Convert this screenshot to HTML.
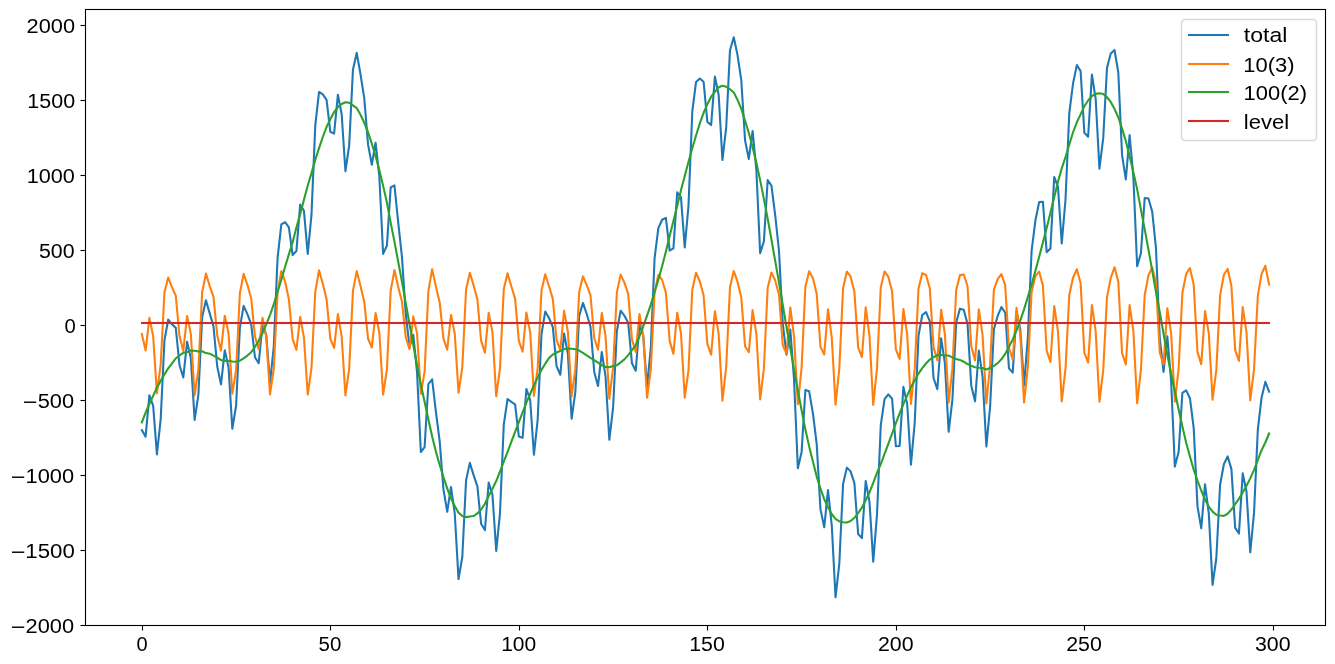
<!DOCTYPE html>
<html><head><meta charset="utf-8"><title>Seasonal components: total, 10(3), 100(2), level</title>
<style>html,body{margin:0;padding:0;background:#fff;overflow:hidden}svg{display:block;will-change:transform}text{font-family:"Liberation Sans",sans-serif;fill:#000}.c{shape-rendering:crispEdges}</style></head><body>
<svg width="1335" height="664" viewBox="0 0 1335 664">
<rect x="0" y="0" width="1335" height="664" fill="#ffffff"/>
<defs><clipPath id="ax"><rect x="85" y="9" width="1241" height="617"/></clipPath></defs>
<g clip-path="url(#ax)" fill="none" stroke-width="2.083" stroke-linejoin="round" stroke-linecap="square">
<polyline stroke="#1f77b4" points="141.84,430.07 145.61,436.71 149.38,395.29 153.15,405.56 156.92,454.40 160.69,419.20 164.46,340.29 168.23,319.56 172.00,324.36 175.77,327.87 179.54,365.31 183.31,377.44 187.08,341.77 190.85,358.36 194.62,419.84 198.39,394.72 202.16,317.11 205.93,300.34 209.70,313.38 213.47,326.19 217.24,366.50 221.01,384.40 224.78,350.23 228.55,367.56 232.32,428.77 236.09,405.76 239.86,327.90 243.63,305.85 247.40,314.19 251.17,324.02 254.94,357.18 258.71,363.24 262.48,324.52 266.25,334.88 270.02,383.08 273.79,346.35 277.56,258.18 281.33,224.35 285.10,222.03 288.87,227.38 292.64,255.07 296.41,251.06 300.18,204.65 303.95,210.80 307.72,253.88 311.49,214.81 315.26,125.62 319.03,91.96 322.80,94.46 326.57,99.78 330.34,131.78 334.11,133.64 337.88,94.76 341.65,113.99 345.42,171.28 349.19,145.26 352.96,69.81 356.73,52.85 360.50,74.26 364.27,98.33 368.04,144.40 371.81,164.77 375.58,142.72 379.35,176.66 383.12,253.92 386.89,245.81 390.67,187.32 394.44,185.36 398.21,222.36 401.98,257.17 405.75,313.99 409.52,346.94 413.29,334.82 417.06,372.33 420.83,452.01 424.60,447.10 428.37,384.04 432.14,379.43 435.91,411.87 439.68,441.05 443.45,489.38 447.22,511.74 450.99,486.93 454.76,513.53 458.53,579.07 462.30,556.97 466.07,480.36 469.84,462.86 473.61,475.14 477.38,486.45 481.15,524.00 484.92,530.06 488.69,482.63 492.46,494.81 496.23,550.91 500.00,513.20 503.77,424.60 507.54,399.03 511.31,401.86 515.08,404.26 518.85,436.63 522.62,437.81 526.39,388.93 530.16,399.78 533.93,454.79 537.70,419.27 541.47,334.27 545.24,311.57 549.01,318.03 552.78,326.80 556.55,366.11 560.32,374.75 564.09,333.53 567.86,353.73 571.63,418.74 575.40,391.52 579.17,316.04 582.94,302.93 586.71,314.04 590.48,326.76 594.25,371.94 598.02,386.02 601.79,351.97 605.56,376.78 609.33,439.77 613.10,407.41 616.87,331.31 620.64,310.71 624.41,315.71 628.18,322.64 631.95,363.19 635.72,370.76 639.49,324.15 643.26,335.97 647.03,386.83 650.80,347.92 654.58,258.22 658.35,228.11 662.12,219.79 665.89,217.83 669.66,250.59 673.43,248.39 677.20,192.25 680.97,197.43 684.74,247.40 688.51,205.56 692.28,111.74 696.05,81.90 699.82,78.49 703.59,81.76 707.36,121.85 711.13,125.08 714.90,76.58 718.67,95.05 722.44,160.02 726.21,127.41 729.98,50.17 733.75,37.28 737.52,55.09 741.29,80.20 745.06,140.37 748.83,158.92 752.60,130.96 756.37,170.27 760.14,253.15 763.91,241.21 767.68,180.16 771.45,185.58 775.22,215.28 778.99,250.76 782.76,323.99 786.53,354.64 790.30,329.46 794.07,379.93 797.84,468.31 801.61,451.90 805.38,390.03 809.15,391.32 812.92,413.43 816.69,443.93 820.46,509.13 824.23,527.30 828.00,490.10 831.77,525.54 835.54,597.28 839.31,563.52 843.08,484.02 846.85,467.62 850.62,471.37 854.39,483.11 858.16,533.98 861.93,538.12 865.70,481.05 869.47,501.84 873.24,561.59 877.01,514.42 880.78,425.05 884.55,399.06 888.32,394.35 892.09,398.79 895.86,446.24 899.63,445.94 903.40,386.91 907.17,403.75 910.94,464.69 914.71,422.75 918.49,335.90 922.26,315.03 926.03,312.16 929.80,321.43 933.57,378.24 937.34,389.15 941.11,338.20 944.88,363.19 948.65,431.76 952.42,399.70 956.19,322.55 959.96,308.66 963.73,309.83 967.50,323.73 971.27,385.65 975.04,401.33 978.81,350.61 982.58,376.67 986.35,446.53 990.12,406.47 993.89,329.23 997.66,315.95 1001.43,307.08 1005.20,312.79 1008.97,368.36 1012.74,372.59 1016.51,311.72 1020.28,328.97 1024.05,385.43 1027.82,338.09 1031.59,250.78 1035.36,220.79 1039.13,202.14 1042.90,201.72 1046.67,252.29 1050.44,248.47 1054.21,176.97 1057.98,186.78 1061.75,243.46 1065.52,199.49 1069.29,113.14 1073.06,83.46 1076.83,65.11 1080.60,71.10 1084.37,132.82 1088.14,136.73 1091.91,74.65 1095.68,98.99 1099.45,168.63 1103.22,138.18 1106.99,67.96 1110.76,53.40 1114.53,49.99 1118.30,72.51 1122.07,155.16 1125.84,179.37 1129.61,135.13 1133.38,177.10 1137.15,266.29 1140.92,253.21 1144.69,197.98 1148.46,198.54 1152.23,211.76 1156.00,248.30 1159.77,338.48 1163.54,372.00 1167.31,336.39 1171.08,380.24 1174.85,466.61 1178.62,452.05 1182.40,392.79 1186.17,390.38 1189.94,398.20 1193.71,428.16 1197.48,506.34 1201.25,528.32 1205.02,484.39 1208.79,513.47 1212.56,584.90 1216.33,558.23 1220.10,484.73 1223.87,464.26 1227.64,456.37 1231.41,469.16 1235.18,527.93 1238.95,533.54 1242.72,473.36 1246.49,491.54 1250.26,552.32 1254.03,512.91 1257.80,429.95 1261.57,397.73 1265.34,381.88 1269.11,391.68"/>
<polyline stroke="#ff7f0e" points="141.84,334.00 145.61,350.52 149.38,317.88 153.15,336.08 156.92,393.32 160.69,364.68 164.46,292.31 168.23,277.59 172.00,287.44 175.77,295.76 179.54,336.32 183.31,350.96 187.08,316.01 190.85,334.12 194.62,395.39 198.39,369.53 202.16,292.25 205.93,273.64 209.70,286.05 213.47,296.93 217.24,335.16 221.01,350.70 224.78,315.72 228.55,333.23 232.32,393.69 236.09,370.34 239.86,293.55 243.63,273.89 247.40,285.00 251.17,298.21 254.94,336.42 258.71,349.17 262.48,317.71 266.25,336.85 270.02,394.41 273.79,368.52 277.56,292.48 281.33,270.94 285.10,281.59 288.87,299.37 292.64,339.18 296.41,349.83 300.18,316.83 303.95,337.40 307.72,394.54 311.49,368.02 315.26,292.07 319.03,270.21 322.80,283.82 326.57,299.18 330.34,338.96 334.11,347.96 337.88,314.06 341.65,336.34 345.42,395.36 349.19,368.86 352.96,290.83 356.73,271.14 360.50,285.93 364.27,301.89 368.04,338.50 371.81,347.53 375.58,312.99 379.35,332.76 383.12,394.62 386.89,369.69 390.67,291.10 394.44,270.08 398.21,286.95 401.98,301.80 405.75,337.19 409.52,349.11 413.29,316.40 417.06,333.37 420.83,393.89 424.60,371.65 428.37,291.16 432.14,269.24 435.91,286.62 439.68,302.46 443.45,338.58 447.22,349.68 450.99,315.01 454.76,333.79 458.53,392.76 462.30,367.39 466.07,289.58 469.84,272.80 473.61,285.42 477.38,299.37 481.15,340.82 484.92,352.69 488.69,312.90 492.46,332.40 496.23,396.25 500.00,368.03 503.77,289.24 507.54,273.32 511.31,286.28 515.08,298.66 518.85,340.93 522.62,351.74 526.39,312.59 530.16,332.14 533.93,395.98 537.70,368.06 541.47,290.75 545.24,274.26 549.01,286.30 552.78,298.60 556.55,339.98 560.32,350.02 564.09,310.84 567.86,331.44 571.63,396.41 575.40,368.63 579.17,291.88 582.94,276.34 586.71,285.08 590.48,295.22 594.25,338.21 598.02,349.72 601.79,313.03 605.56,336.24 609.33,398.79 613.10,367.69 616.87,292.37 620.64,274.64 624.41,282.64 628.18,293.84 631.95,339.40 635.72,352.05 639.49,313.99 643.26,335.97 647.03,397.61 650.80,369.63 654.58,292.32 658.35,274.72 662.12,279.95 665.89,292.66 669.66,340.88 673.43,353.85 677.20,312.69 680.97,333.48 684.74,397.73 688.51,370.14 692.28,289.81 696.05,272.76 699.82,281.49 703.59,295.31 707.36,343.94 711.13,354.76 714.90,311.17 718.67,334.09 722.44,400.69 726.21,366.97 729.98,287.31 733.75,271.03 737.52,281.66 741.29,297.59 745.06,346.25 748.83,352.24 752.60,310.11 756.37,333.93 760.14,399.38 763.91,368.42 767.68,287.72 771.45,272.46 775.22,280.54 778.99,294.67 782.76,345.42 786.53,353.75 790.30,307.49 794.07,336.92 797.84,404.20 801.61,367.87 805.38,286.80 809.15,271.28 812.92,278.34 816.69,293.71 820.46,346.85 824.23,354.45 828.00,309.30 831.77,337.62 835.54,404.76 839.31,368.62 843.08,288.15 846.85,271.53 850.62,276.71 854.39,291.67 858.16,347.27 861.93,357.01 865.70,307.24 869.47,335.72 873.24,405.00 877.01,367.88 880.78,287.38 884.55,271.45 888.32,276.83 892.09,291.42 895.86,349.34 899.63,358.95 903.40,309.15 907.17,334.43 910.94,403.86 914.71,368.92 918.49,288.73 922.26,273.27 926.03,275.00 929.80,288.22 933.57,347.40 937.34,360.30 941.11,309.88 944.88,334.02 948.65,402.55 952.42,368.63 956.19,289.94 959.96,275.11 963.73,274.49 967.50,286.02 971.27,346.24 975.04,360.45 978.81,309.27 982.58,335.09 986.35,403.40 990.12,364.73 993.89,289.63 997.66,279.18 1001.43,274.11 1005.20,285.27 1008.97,347.85 1012.74,359.45 1016.51,307.81 1020.28,334.76 1024.05,402.46 1027.82,367.47 1031.59,292.28 1035.36,276.16 1039.13,271.58 1042.90,285.62 1046.67,350.61 1050.44,361.99 1054.21,305.99 1057.98,331.42 1061.75,401.49 1065.52,368.65 1069.29,294.97 1073.06,277.57 1076.83,269.21 1080.60,283.09 1084.37,352.97 1088.14,362.62 1091.91,305.02 1095.68,331.46 1099.45,401.81 1103.22,370.47 1106.99,297.08 1110.76,277.86 1114.53,267.27 1118.30,281.62 1122.07,352.91 1125.84,364.52 1129.61,305.15 1133.38,331.19 1137.15,403.30 1140.92,369.93 1144.69,295.21 1148.46,275.17 1152.23,267.44 1156.00,282.67 1159.77,352.67 1163.54,364.60 1167.31,308.21 1171.08,332.85 1174.85,401.75 1178.62,368.85 1182.40,292.68 1186.17,273.93 1189.94,268.01 1193.71,284.86 1197.48,352.18 1201.25,364.17 1205.02,311.15 1208.79,333.32 1212.56,399.67 1216.33,369.88 1220.10,295.60 1223.87,274.74 1227.64,268.95 1231.41,285.95 1235.18,350.10 1238.95,361.00 1242.72,307.14 1246.49,332.15 1250.26,400.32 1254.03,369.41 1257.80,296.18 1261.57,273.86 1265.34,265.74 1269.11,284.57"/>
<polyline stroke="#2ca02c" points="141.84,422.42 145.61,412.54 149.38,403.77 153.15,395.83 156.92,387.44 160.69,380.88 164.46,374.34 168.23,368.32 172.00,363.28 175.77,358.47 179.54,355.35 183.31,352.84 187.08,352.12 190.85,350.60 194.62,350.81 198.39,351.54 202.16,351.21 205.93,353.06 209.70,353.68 213.47,355.61 217.24,357.69 221.01,360.05 224.78,360.87 228.55,360.69 232.32,361.44 236.09,361.78 239.86,360.70 243.63,358.32 247.40,355.55 251.17,352.16 254.94,347.11 258.71,340.42 262.48,333.16 266.25,324.39 270.02,315.03 273.79,304.19 277.56,292.06 281.33,279.77 285.10,266.79 288.87,254.36 292.64,242.25 296.41,227.59 300.18,214.18 303.95,199.76 307.72,185.70 311.49,173.14 315.26,159.91 319.03,148.11 322.80,137.00 326.57,126.96 330.34,119.18 334.11,112.04 337.88,107.06 341.65,104.01 345.42,102.27 349.19,102.76 352.96,105.34 356.73,108.06 360.50,114.69 364.27,122.80 368.04,132.25 371.81,143.59 375.58,156.09 379.35,170.25 383.12,185.66 386.89,202.47 390.67,222.57 394.44,241.64 398.21,261.77 401.98,281.72 405.75,303.16 409.52,324.19 413.29,344.77 417.06,365.31 420.83,384.48 424.60,401.80 428.37,419.23 432.14,436.54 435.91,451.60 439.68,464.94 443.45,477.15 447.22,488.42 450.99,498.27 454.76,506.09 458.53,512.66 462.30,515.93 466.07,517.13 469.84,516.42 473.61,516.07 477.38,513.44 481.15,509.53 484.92,503.72 488.69,496.08 492.46,488.77 496.23,481.01 500.00,471.52 503.77,461.72 507.54,452.06 511.31,441.94 515.08,431.96 518.85,422.05 522.62,412.43 526.39,402.69 530.16,393.99 533.93,385.17 537.70,377.57 541.47,369.88 545.24,363.67 549.01,358.09 552.78,354.55 556.55,352.49 560.32,351.09 564.09,349.05 567.86,348.65 571.63,348.69 575.40,349.25 579.17,350.51 582.94,352.94 586.71,355.31 590.48,357.89 594.25,360.09 598.02,362.66 601.79,365.30 605.56,366.90 609.33,367.33 613.10,366.08 616.87,365.30 620.64,362.42 624.41,359.42 628.18,355.16 631.95,350.14 635.72,345.06 639.49,336.51 643.26,326.36 647.03,315.58 650.80,304.65 654.58,292.26 658.35,279.75 662.12,266.20 665.89,251.53 669.66,236.07 673.43,220.90 677.20,205.91 680.97,190.31 684.74,176.03 688.51,161.77 692.28,148.29 696.05,135.50 699.82,123.36 703.59,112.80 707.36,104.27 711.13,96.68 714.90,91.77 718.67,87.32 722.44,85.69 726.21,86.80 729.98,89.21 733.75,92.60 737.52,99.78 741.29,108.96 745.06,120.47 748.83,133.03 752.60,147.21 756.37,162.69 760.14,180.12 763.91,199.14 767.68,218.80 771.45,239.47 775.22,261.10 778.99,282.44 782.76,304.93 786.53,327.25 790.30,348.33 794.07,369.36 797.84,390.47 801.61,410.39 805.38,429.58 809.15,446.39 812.92,461.45 816.69,476.58 820.46,488.64 824.23,499.20 828.00,507.15 831.77,514.27 835.54,518.87 839.31,521.26 843.08,522.22 846.85,522.45 850.62,521.02 854.39,517.79 858.16,513.06 861.93,507.46 865.70,500.17 869.47,492.47 873.24,482.94 877.01,472.89 880.78,464.03 884.55,453.97 888.32,443.88 892.09,433.72 895.86,423.26 899.63,413.35 903.40,404.12 907.17,395.68 910.94,387.19 914.71,380.19 918.49,373.53 922.26,368.12 926.03,363.52 929.80,359.57 933.57,357.19 937.34,355.21 941.11,354.68 944.88,355.53 948.65,355.56 952.42,357.43 956.19,358.96 959.96,359.91 963.73,361.70 967.50,364.07 971.27,365.76 975.04,367.24 978.81,367.70 982.58,367.94 986.35,369.49 990.12,368.10 993.89,365.96 997.66,363.12 1001.43,359.33 1005.20,353.87 1008.97,346.87 1012.74,339.50 1016.51,330.26 1020.28,320.56 1024.05,309.33 1027.82,296.98 1031.59,284.86 1035.36,270.98 1039.13,256.91 1042.90,242.46 1046.67,228.04 1050.44,212.84 1054.21,197.34 1057.98,181.72 1061.75,168.33 1065.52,157.19 1069.29,144.52 1073.06,132.25 1076.83,122.26 1080.60,114.37 1084.37,106.20 1088.14,100.46 1091.91,95.98 1095.68,93.89 1099.45,93.17 1103.22,94.06 1106.99,97.23 1110.76,101.90 1114.53,109.07 1118.30,117.24 1122.07,128.60 1125.84,141.20 1129.61,156.34 1133.38,172.27 1137.15,189.34 1140.92,209.63 1144.69,229.12 1148.46,249.72 1152.23,270.67 1156.00,291.99 1159.77,312.16 1163.54,333.75 1167.31,354.53 1171.08,373.75 1174.85,391.21 1178.62,409.56 1182.40,426.47 1186.17,442.80 1189.94,456.54 1193.71,469.66 1197.48,480.51 1201.25,490.50 1205.02,499.60 1208.79,506.50 1212.56,511.59 1216.33,514.70 1220.10,515.49 1223.87,515.87 1227.64,513.77 1231.41,509.57 1235.18,504.18 1238.95,498.89 1242.72,492.57 1246.49,485.74 1250.26,478.35 1254.03,469.85 1257.80,460.13 1261.57,450.22 1265.34,442.49 1269.11,433.47"/>
</g>
<g class="c">
<rect x="140" y="321" width="1131" height="1" fill="#d62728" fill-opacity="0.04"/>
<rect x="140" y="324" width="1131" height="1" fill="#d62728" fill-opacity="0.04"/>
<rect x="140" y="322" width="1" height="2" fill="#d62728" fill-opacity="0.04"/>
<rect x="1270" y="322" width="1" height="2" fill="#d62728" fill-opacity="0.04"/>
<rect x="141" y="322" width="1129" height="2" fill="#d62728"/>
</g>
<g class="c">
<rect x="85.5" y="9.5" width="1240" height="616" fill="none" stroke="#f1f1f1" stroke-width="3"/>
<rect x="141" y="626" width="3" height="4" fill="#f1f1f1"/><rect x="141" y="630" width="3" height="1" fill="#f8f8f8"/>
<rect x="329" y="626" width="3" height="4" fill="#f1f1f1"/><rect x="329" y="630" width="3" height="1" fill="#f8f8f8"/>
<rect x="518" y="626" width="3" height="4" fill="#f1f1f1"/><rect x="518" y="630" width="3" height="1" fill="#f8f8f8"/>
<rect x="706" y="626" width="3" height="4" fill="#f1f1f1"/><rect x="706" y="630" width="3" height="1" fill="#f8f8f8"/>
<rect x="895" y="626" width="3" height="4" fill="#f1f1f1"/><rect x="895" y="630" width="3" height="1" fill="#f8f8f8"/>
<rect x="1083" y="626" width="3" height="4" fill="#f1f1f1"/><rect x="1083" y="630" width="3" height="1" fill="#f8f8f8"/>
<rect x="1272" y="626" width="3" height="4" fill="#f1f1f1"/><rect x="1272" y="630" width="3" height="1" fill="#f8f8f8"/>
<rect x="81" y="24" width="4" height="3" fill="#f1f1f1"/><rect x="80" y="24" width="1" height="3" fill="#f8f8f8"/>
<rect x="81" y="99" width="4" height="3" fill="#f1f1f1"/><rect x="80" y="99" width="1" height="3" fill="#f8f8f8"/>
<rect x="81" y="174" width="4" height="3" fill="#f1f1f1"/><rect x="80" y="174" width="1" height="3" fill="#f8f8f8"/>
<rect x="81" y="249" width="4" height="3" fill="#f1f1f1"/><rect x="80" y="249" width="1" height="3" fill="#f8f8f8"/>
<rect x="81" y="324" width="4" height="3" fill="#f1f1f1"/><rect x="80" y="324" width="1" height="3" fill="#f8f8f8"/>
<rect x="81" y="399" width="4" height="3" fill="#f1f1f1"/><rect x="80" y="399" width="1" height="3" fill="#f8f8f8"/>
<rect x="81" y="474" width="4" height="3" fill="#f1f1f1"/><rect x="80" y="474" width="1" height="3" fill="#f8f8f8"/>
<rect x="81" y="549" width="4" height="3" fill="#f1f1f1"/><rect x="80" y="549" width="1" height="3" fill="#f8f8f8"/>
<rect x="81" y="624" width="4" height="3" fill="#f1f1f1"/><rect x="80" y="624" width="1" height="3" fill="#f8f8f8"/>
<rect x="85.5" y="9.5" width="1240" height="616" fill="none" stroke="#000" stroke-width="1"/>
<rect x="142" y="626" width="1" height="4" fill="#000"/><rect x="142" y="630" width="1" height="1" fill="#7f7f7f"/>
<rect x="330" y="626" width="1" height="4" fill="#000"/><rect x="330" y="630" width="1" height="1" fill="#7f7f7f"/>
<rect x="519" y="626" width="1" height="4" fill="#000"/><rect x="519" y="630" width="1" height="1" fill="#7f7f7f"/>
<rect x="707" y="626" width="1" height="4" fill="#000"/><rect x="707" y="630" width="1" height="1" fill="#7f7f7f"/>
<rect x="896" y="626" width="1" height="4" fill="#000"/><rect x="896" y="630" width="1" height="1" fill="#7f7f7f"/>
<rect x="1084" y="626" width="1" height="4" fill="#000"/><rect x="1084" y="630" width="1" height="1" fill="#7f7f7f"/>
<rect x="1273" y="626" width="1" height="4" fill="#000"/><rect x="1273" y="630" width="1" height="1" fill="#7f7f7f"/>
<rect x="81" y="25" width="4" height="1" fill="#000"/><rect x="80" y="25" width="1" height="1" fill="#7f7f7f"/>
<rect x="81" y="100" width="4" height="1" fill="#000"/><rect x="80" y="100" width="1" height="1" fill="#7f7f7f"/>
<rect x="81" y="175" width="4" height="1" fill="#000"/><rect x="80" y="175" width="1" height="1" fill="#7f7f7f"/>
<rect x="81" y="250" width="4" height="1" fill="#000"/><rect x="80" y="250" width="1" height="1" fill="#7f7f7f"/>
<rect x="81" y="325" width="4" height="1" fill="#000"/><rect x="80" y="325" width="1" height="1" fill="#7f7f7f"/>
<rect x="81" y="400" width="4" height="1" fill="#000"/><rect x="80" y="400" width="1" height="1" fill="#7f7f7f"/>
<rect x="81" y="475" width="4" height="1" fill="#000"/><rect x="80" y="475" width="1" height="1" fill="#7f7f7f"/>
<rect x="81" y="550" width="4" height="1" fill="#000"/><rect x="80" y="550" width="1" height="1" fill="#7f7f7f"/>
<rect x="81" y="625" width="4" height="1" fill="#000"/><rect x="80" y="625" width="1" height="1" fill="#7f7f7f"/>
</g>
<g font-size="19.50">
<text x="136.44" y="650.60" textLength="11.13" lengthAdjust="spacingAndGlyphs">0</text>
<text x="318.63" y="650.60" textLength="22.75" lengthAdjust="spacingAndGlyphs">50</text>
<text x="501.16" y="650.60" textLength="35.07" lengthAdjust="spacingAndGlyphs">100</text>
<text x="689.20" y="650.60" textLength="35.61" lengthAdjust="spacingAndGlyphs">150</text>
<text x="878.00" y="650.60" textLength="35.61" lengthAdjust="spacingAndGlyphs">200</text>
<text x="1066.20" y="650.60" textLength="35.61" lengthAdjust="spacingAndGlyphs">250</text>
<text x="1255.00" y="650.60" textLength="35.61" lengthAdjust="spacingAndGlyphs">300</text>
<text><tspan x="26.63" y="32.50" textLength="48.47" lengthAdjust="spacingAndGlyphs">2000</tspan></text>
<text><tspan x="27.36" y="107.50" textLength="47.74" lengthAdjust="spacingAndGlyphs">1500</tspan></text>
<text><tspan x="26.71" y="182.50" textLength="48.19" lengthAdjust="spacingAndGlyphs">1000</tspan></text>
<text><tspan x="38.99" y="257.50" textLength="35.61" lengthAdjust="spacingAndGlyphs">500</tspan></text>
<text><tspan x="64.61" y="332.50" textLength="11.29" lengthAdjust="spacingAndGlyphs">0</tspan></text>
<text><tspan x="22.80" y="409.00" font-size="20.42" textLength="14.68" lengthAdjust="spacingAndGlyphs">−</tspan><tspan x="37.75" y="407.50" textLength="36.35" lengthAdjust="spacingAndGlyphs">500</tspan></text>
<text><tspan x="10.80" y="484.00" font-size="20.42" textLength="14.68" lengthAdjust="spacingAndGlyphs">−</tspan><tspan x="25.63" y="482.50" textLength="48.47" lengthAdjust="spacingAndGlyphs">1000</tspan></text>
<text><tspan x="10.80" y="559.00" font-size="20.42" textLength="14.68" lengthAdjust="spacingAndGlyphs">−</tspan><tspan x="25.34" y="557.50" textLength="49.46" lengthAdjust="spacingAndGlyphs">1500</tspan></text>
<text><tspan x="10.80" y="634.00" font-size="20.42" textLength="14.68" lengthAdjust="spacingAndGlyphs">−</tspan><tspan x="25.63" y="632.50" textLength="48.47" lengthAdjust="spacingAndGlyphs">2000</tspan></text>
</g>
<rect x="1181.5" y="19.5" width="135" height="121" rx="3.50" ry="3.50" fill="#ffffff" stroke="#f7f7f7" stroke-width="3"/>
<rect x="1181.5" y="19.5" width="135" height="121" rx="3.50" ry="3.50" fill="none" stroke="#d6d6d6" stroke-width="1"/>
<g class="c">
<rect x="1187" y="33" width="43" height="4" fill="#f6fafc"/><rect x="1188" y="34" width="41" height="2" fill="#1f77b4"/>
<rect x="1187" y="62" width="43" height="4" fill="#fffaf5"/><rect x="1188" y="63" width="41" height="2" fill="#ff7f0e"/>
<rect x="1187" y="90" width="43" height="4" fill="#f7fbf7"/><rect x="1188" y="91" width="41" height="2" fill="#2ca02c"/>
<rect x="1187" y="119" width="43" height="4" fill="#fdf6f6"/><rect x="1188" y="120" width="41" height="2" fill="#d62728"/>
</g>
<g font-size="20.50">
<text x="1243.80" y="41.65" textLength="43.56" lengthAdjust="spacingAndGlyphs">total</text>
<text x="1243.30" y="71.70" textLength="51.22" lengthAdjust="spacingAndGlyphs">10(3)</text>
<text x="1243.60" y="99.65" textLength="63.35" lengthAdjust="spacingAndGlyphs">100(2)</text>
<text x="1243.80" y="128.55" textLength="45.31" lengthAdjust="spacingAndGlyphs">level</text>
</g>
</svg></body></html>
